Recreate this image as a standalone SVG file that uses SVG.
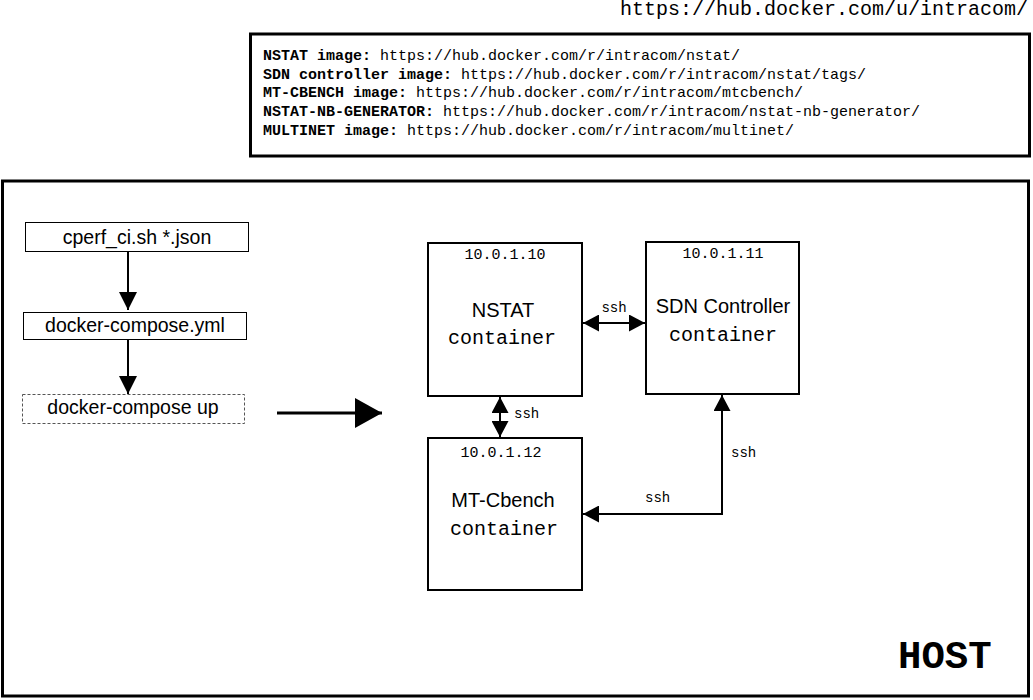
<svg xmlns="http://www.w3.org/2000/svg" width="1033" height="700" viewBox="0 0 1033 700">
<style>
.mono{font-family:"Liberation Mono","Courier New",monospace;fill:#000}
.sans{font-family:"Liberation Sans",Arial,sans-serif;fill:#000}
.b{font-weight:bold}
.box{fill:#fff;stroke:#000;stroke-width:1}
.cont{fill:#fff;stroke:#000;stroke-width:2}
.frame{fill:none;stroke:#000;stroke-width:3}
.conn{fill:none;stroke:#000;stroke-width:2}
</style>
<defs>
<marker id="ah" markerUnits="userSpaceOnUse" markerWidth="16" markerHeight="17" refX="16" refY="8.5" orient="auto-start-reverse" viewBox="0 0 16 17">
<path d="M0,0 L16,8.5 L0,17 z" fill="#000"/>
</marker>
<marker id="ahs" markerUnits="userSpaceOnUse" markerWidth="18" markerHeight="18" refX="18" refY="9" orient="auto" viewBox="0 0 18 18">
<path d="M0,0 L18,9 L0,18 z" fill="#000"/>
</marker>
<marker id="ahb" markerUnits="userSpaceOnUse" markerWidth="27" markerHeight="30" refX="27" refY="15" orient="auto" viewBox="0 0 27 30">
<path d="M0,0 L27,15 L0,30 z" fill="#000"/>
</marker>
</defs>
<rect width="1033" height="700" fill="#fff"/>

<g id="hub-url">
<text class="mono" x="620" y="15" font-size="20">https://hub.docker.com/u/intracom/</text>
</g>

<g id="images">
<rect class="frame" x="250.5" y="34" width="779" height="122"/>
<text class="mono" font-size="15" x="263" y="60"><tspan class="b">NSTAT image:</tspan> https://hub.docker.com/r/intracom/nstat/</text>
<text class="mono" font-size="15" x="263" y="78.5"><tspan class="b">SDN controller image:</tspan> https://hub.docker.com/r/intracom/nstat/tags/</text>
<text class="mono" font-size="15" x="263" y="97"><tspan class="b">MT-CBENCH image:</tspan> https://hub.docker.com/r/intracom/mtcbench/</text>
<text class="mono" font-size="15" x="263" y="116"><tspan class="b">NSTAT-NB-GENERATOR:</tspan> https://hub.docker.com/r/intracom/nstat-nb-generator/</text>
<text class="mono" font-size="15" x="263" y="135"><tspan class="b">MULTINET image:</tspan> https://hub.docker.com/r/intracom/multinet/</text>
</g>

<g id="host">
<rect class="frame" x="2.5" y="181" width="1026" height="515"/>
<text class="mono b" x="898" y="668" font-size="39">HOST</text>
</g>

<g id="cperf">
<rect class="box" x="25.5" y="222.5" width="223" height="29"/>
<text class="sans" x="137" y="244" font-size="19.5" text-anchor="middle">cperf_ci.sh *.json</text>
</g>
<g id="compose-yml">
<rect class="box" x="23.5" y="312.5" width="223" height="27"/>
<text class="sans" x="135" y="332" font-size="19.5" text-anchor="middle">docker-compose.yml</text>
</g>
<g id="compose-up">
<rect x="22.5" y="394.5" width="222" height="29" fill="#fff" stroke="#555" stroke-width="1" stroke-dasharray="3,2"/>
<text class="sans" x="133" y="414" font-size="19.5" text-anchor="middle">docker-compose up</text>
</g>

<g id="nstat">
<rect class="cont" x="428" y="243" width="154" height="153"/>
<text class="mono" x="505" y="259" font-size="15" text-anchor="middle">10.0.1.10</text>
<text class="sans" x="503" y="317" font-size="20" text-anchor="middle">NSTAT</text>
<text class="mono" x="502" y="344" font-size="20" text-anchor="middle">container</text>
</g>
<g id="sdn">
<rect class="cont" x="646" y="242" width="153" height="152"/>
<text class="mono" x="723" y="258" font-size="15" text-anchor="middle">10.0.1.11</text>
<text class="sans" x="723" y="313" font-size="20" text-anchor="middle">SDN Controller</text>
<text class="mono" x="723" y="341" font-size="20" text-anchor="middle">container</text>
</g>
<g id="mtcbench">
<rect class="cont" x="428" y="438" width="154" height="152"/>
<text class="mono" x="501" y="457" font-size="15" text-anchor="middle">10.0.1.12</text>
<text class="sans" x="503" y="507" font-size="20" text-anchor="middle">MT-Cbench</text>
<text class="mono" x="504" y="535" font-size="20" text-anchor="middle">container</text>
</g>

<g id="connectors">
<path class="conn" d="M128,252 V310" marker-end="url(#ahs)"/>
<path class="conn" d="M128,340 V394" marker-end="url(#ahs)"/>
<path d="M277,413 H382" fill="none" stroke="#000" stroke-width="3" marker-end="url(#ahb)"/>
<path class="conn" d="M583,323 H645" marker-start="url(#ah)" marker-end="url(#ah)"/>
<text class="mono" x="614" y="312" font-size="14" text-anchor="middle">ssh</text>
<path class="conn" d="M500,397 V437" marker-start="url(#ah)" marker-end="url(#ah)"/>
<text class="mono" x="514" y="418" font-size="14">ssh</text>
<path class="conn" d="M583,514 H722 V395" marker-start="url(#ah)" marker-end="url(#ah)"/>
<text class="mono" x="645" y="502" font-size="14">ssh</text>
<text class="mono" x="731" y="457" font-size="14">ssh</text>
</g>
</svg>
